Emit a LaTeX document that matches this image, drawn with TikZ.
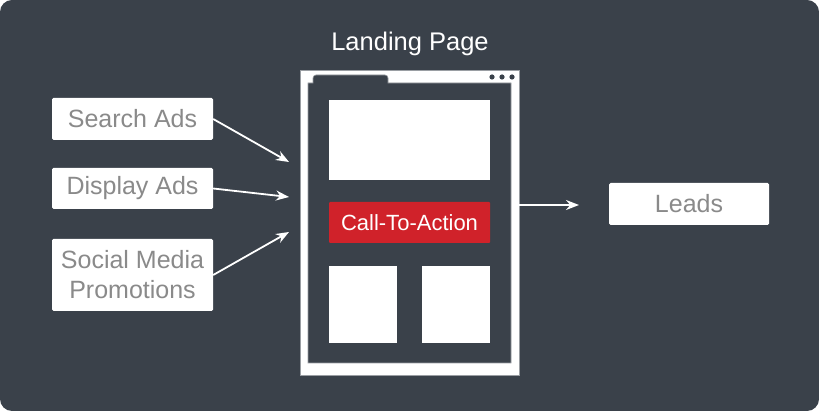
\documentclass[tikz,border=0pt]{standalone}
\usepackage{fontspec}
\setmainfont{Liberation Sans}
\usetikzlibrary{positioning,arrows.meta}
\definecolor{slate}{HTML}{3A414A}
\definecolor{boxtext}{HTML}{8A8A8A}
\definecolor{ctared}{HTML}{D0222A}
\definecolor{rim}{HTML}{9A9EA3}
\tikzset{
  source/.style={fill=white, rounded corners=1.5pt, text=boxtext, minimum width=161pt,
    align=center, inner sep=0pt, font=\fontsize{25}{30}\selectfont},
  block/.style={fill=white, inner sep=0pt, anchor=north west},
  flow/.style={draw=white, line width=1.8pt, -{Stealth[length=13pt,width=10pt]}}
}
\begin{document}
\begin{tikzpicture}[x=1pt, y=-1pt]
%%% background %%%
\fill[slate, rounded corners=12pt] (0,0) rectangle (819,411);
\useasboundingbox (0,0) rectangle (819,411);

%%% landing page %%%
\node[text=white, font=\fontsize{25.5}{30}\selectfont] (title) at (410,44) {Landing Page};
\node[fill=white, draw=rim, line width=0.6pt, inner sep=0pt, minimum width=219pt,
      minimum height=305pt] (page) at (409.5,222.5) {};
\draw[fill=slate, draw=rim, line width=0.6pt]
  (308,363) -- (308,83) -- (313,83) [rounded corners=3pt] -- (313,75) -- (388,75)
  [sharp corners] -- (388,83) -- (511,83) -- (511,363) -- cycle;
\fill[slate] (492,77) circle (2.6pt) (502,77) circle (2.6pt) (512,77) circle (2.6pt);
%%
\node[block, minimum width=161pt, minimum height=80pt] (hero) at (329,100) {};
\node[fill=ctared, rounded corners=1pt, text=white, minimum width=161pt, minimum height=41pt,
      inner sep=0pt, font=\fontsize{22}{26}\selectfont] (cta) at (409.5,222.5) {Call-To-Action};
\node[block, minimum width=68pt, minimum height=77pt] (boxa) at (329,266) {};
\node[block, minimum width=68pt, minimum height=77pt] (boxb) at (422,266) {};

%%% sources %%%
\node[source, minimum height=42pt] (search) at (132.5,119) {Search Ads};
\node[source, minimum height=41pt] (display) at (132.5,188.5) {Display Ads};
\node[source, minimum height=72pt] (social) at (132.5,275) {Social Media\\Promotions};
\node[source, minimum width=160pt, minimum height=42pt] (leads) at (689,204) {Leads};

%%% arrows %%%
\coordinate (in1) at (289,162);
\coordinate (in2) at (289,197);
\coordinate (in3) at (289,232);
\coordinate (out) at (579,205);
\draw[flow] (search.east) -- (in1);
\draw[flow] (display.east) -- (in2);
\draw[flow] (social.east) -- (in3);
\draw[flow] (page.east |- out) -- (out);

\end{tikzpicture}
\end{document}
